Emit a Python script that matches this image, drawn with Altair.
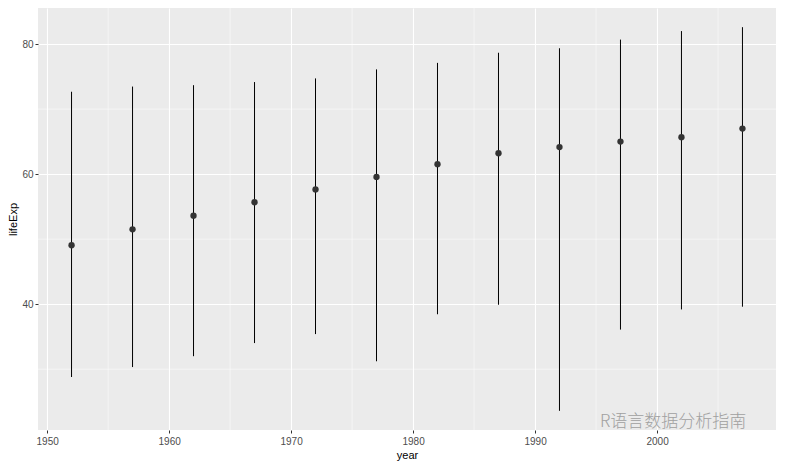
import altair as alt
import pandas as pd

years = [1952, 1957, 1962, 1967, 1972, 1977, 1982, 1987, 1992, 1997, 2002, 2007]
mean_life = [49.06, 51.51, 53.61, 55.68, 57.65, 59.57, 61.53, 63.21, 64.16, 65.01, 65.69, 67.01]
min_life = [28.80, 30.33, 32.00, 34.02, 35.40, 31.22, 38.45, 39.91, 23.60, 36.09, 39.19, 39.61]
max_life = [72.67, 73.47, 73.68, 74.16, 74.72, 76.11, 77.11, 78.67, 79.36, 80.69, 82.00, 82.60]

x_major = [1950, 1960, 1970, 1980, 1990, 2000]
x_minor = [1955, 1965, 1975, 1985, 1995, 2005]
y_major = [40, 60, 80]
y_minor = [30, 50, 70]

df = pd.DataFrame({"year": years, "lifeExp": mean_life, "lo": min_life, "hi": max_life})
xminor_df = pd.DataFrame({"year": x_minor})
yminor_df = pd.DataFrame({"lifeExp": y_minor})

xs = alt.Scale(domain=[1949.25, 2009.75], nice=False, zero=False)
ys = alt.Scale(domain=[20.65, 85.55], nice=False, zero=False)

xaxis = alt.Axis(values=x_major, format="d", grid=True, gridColor="white", gridWidth=1.1,
                 domain=False, tickColor="#333333", tickSize=3, labelColor="#4D4D4D",
                 labelFontSize=10, labelPadding=3, titleFontSize=11, titleColor="black",
                 titleFontWeight="normal", titlePadding=3)
yaxis = alt.Axis(values=y_major, grid=True, gridColor="white", gridWidth=1.1,
                 domain=False, tickColor="#333333", tickSize=3, labelColor="#4D4D4D",
                 labelFontSize=10, labelPadding=2, titleFontSize=11, titleColor="black",
                 titleFontWeight="normal", titlePadding=3)

X = alt.X("year:Q", scale=xs, axis=xaxis, title="year")

vminor = alt.Chart(xminor_df).mark_rule(color="white", strokeWidth=0.5).encode(x=X)
hminor = alt.Chart(yminor_df).mark_rule(color="white", strokeWidth=0.5).encode(
    y=alt.Y("lifeExp:Q", scale=ys, axis=yaxis, title="lifeExp"))

base = alt.Chart(df)
ranges = base.mark_rule(color="black", strokeWidth=1).encode(
    x=X,
    y=alt.Y("lo:Q", scale=ys, axis=yaxis, title="lifeExp"),
    y2="hi:Q")
points = base.mark_point(filled=True, color="#333333", size=40, opacity=1).encode(
    x=X,
    y=alt.Y("lifeExp:Q", scale=ys, axis=yaxis, title="lifeExp"))

watermark = alt.Chart(pd.DataFrame({"t": ["R语言数据分析指南"]})).mark_text(
    font="Noto Sans CJK SC", fontSize=17, fontWeight=300, color="#a0a0a0",
    align="left", baseline="middle"
).encode(text="t:N", x=alt.value(562), y=alt.value(414))

chart = alt.layer(vminor, hminor, ranges, points, watermark).properties(
    width=738, height=422,
    padding={"left": 30, "top": 0, "right": 4, "bottom": 32},
    autosize="none",
    background="white",
).configure_view(fill="#EBEBEB", strokeWidth=0).configure_axis(
    labelFont="Liberation Sans", titleFont="Liberation Sans")

chart.save("out.html", embed_options={"renderer": "svg", "actions": False})
